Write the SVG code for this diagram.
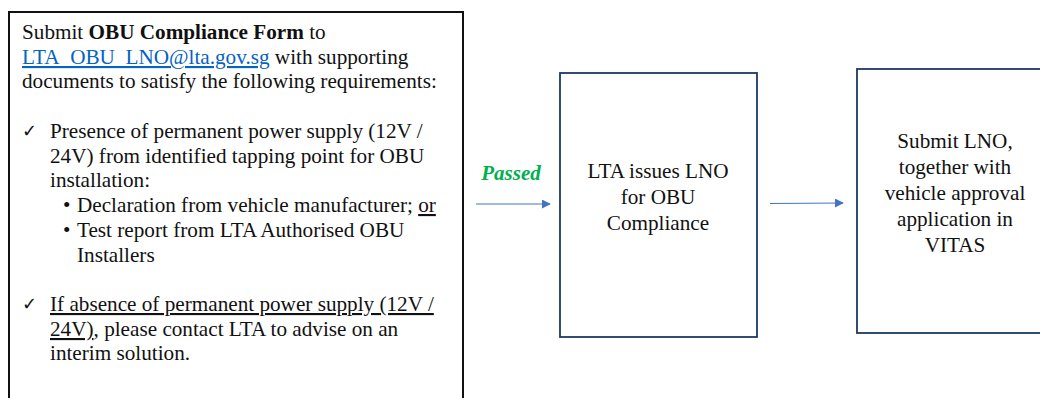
<svg xmlns="http://www.w3.org/2000/svg" width="1040" height="398" viewBox="0 0 1040 398">
<defs>
<style>
.t{font-family:"Liberation Serif","Times New Roman",serif;font-size:21.2px;fill:#111}
.c{text-anchor:middle}
.box{fill:#fff;stroke:#1f3864;stroke-width:1.8}
.ck{font-family:"DejaVu Sans",sans-serif;font-size:18px;fill:#111}
.conn{stroke:#4472c4;stroke-width:1.2;fill:none}
</style>
<marker id="ah" viewBox="0 0 10 10" refX="9" refY="5" markerWidth="9" markerHeight="9" markerUnits="userSpaceOnUse" orient="auto">
<path d="M0,0 L10,5 L0,10 z" fill="#4472c4"/>
</marker>
</defs>
<rect width="1040" height="398" fill="#fff"/>
<g id="node-form">
<rect x="9" y="12" width="454" height="400" fill="#fff" stroke="#111" stroke-width="2"/>
<text class="t" x="22" y="39">Submit <tspan font-weight="bold">OBU Compliance Form</tspan> to</text>
<text class="t" x="22" y="64"><tspan fill="#0563c1" text-decoration="underline">LTA_OBU_LNO@lta.gov.sg</tspan> with supporting</text>
<text class="t" x="22" y="88">documents to satisfy the following requirements:</text>
<text class="ck" x="22" y="137">✓</text>
<text class="t" x="50" y="138">Presence of permanent power supply (12V /</text>
<text class="t" x="50" y="163">24V) from identified tapping point for OBU</text>
<text class="t" x="50" y="187">installation:</text>
<text class="t" x="63" y="212">•</text>
<text class="t" x="77" y="212">Declaration from vehicle manufacturer; <tspan text-decoration="underline">or</tspan></text>
<text class="t" x="63" y="237">•</text>
<text class="t" x="77" y="237">Test report from LTA Authorised OBU</text>
<text class="t" x="77" y="262">Installers</text>
<text class="ck" x="22" y="310">✓</text>
<text class="t" x="50" y="311"><tspan text-decoration="underline">If absence of permanent power supply (12V /</tspan></text>
<text class="t" x="50" y="336"><tspan text-decoration="underline">24V)</tspan>, please contact LTA to advise on an</text>
<text class="t" x="50" y="360">interim solution.</text>
</g>
<g id="node-lno">
<rect class="box" x="560" y="73" width="197" height="264"/>
<text class="t c" x="658" y="178">LTA issues LNO</text>
<text class="t c" x="658" y="204">for OBU</text>
<text class="t c" x="658" y="230">Compliance</text>
</g>
<g id="node-vitas">
<rect class="box" x="857" y="69" width="200" height="264"/>
<text class="t c" x="955" y="148">Submit LNO,</text>
<text class="t c" x="955" y="174">together with</text>
<text class="t c" x="955" y="200">vehicle approval</text>
<text class="t c" x="955" y="226">application in</text>
<text class="t c" x="955" y="252">VITAS</text>
</g>
<g id="connectors">
<line class="conn" x1="476" y1="204" x2="550" y2="204" marker-end="url(#ah)"/>
<text x="511" y="180" text-anchor="middle" font-family="Liberation Serif, serif" font-size="21" font-weight="bold" font-style="italic" fill="#00b050">Passed</text>
<line class="conn" x1="770" y1="203.5" x2="843" y2="203" marker-end="url(#ah)"/>
</g>
</svg>
